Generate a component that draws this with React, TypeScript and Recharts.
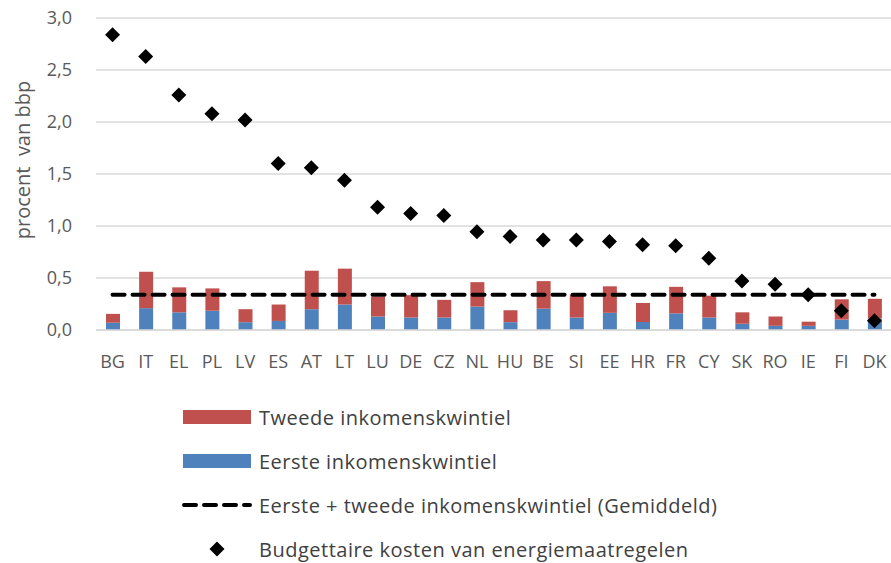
import { ComposedChart, Bar, Line, XAxis, YAxis, CartesianGrid } from 'recharts';

const countries = ['BG', 'IT', 'EL', 'PL', 'LV', 'ES', 'AT', 'LT', 'LU', 'DE', 'CZ', 'NL', 'HU', 'BE', 'SI', 'EE', 'HR', 'FR', 'CY', 'SK', 'RO', 'IE', 'FI', 'DK'];
// eerste inkomenskwintiel (onderste deel)
const eerste = [0.07, 0.21, 0.17, 0.185, 0.075, 0.087, 0.2, 0.245, 0.13, 0.12, 0.12, 0.225, 0.075, 0.205, 0.12, 0.165, 0.077, 0.16, 0.12, 0.06, 0.04, 0.04, 0.1, 0.11];
// tweede inkomenskwintiel (bovenste deel)
const tweede = [0.085, 0.35, 0.24, 0.215, 0.125, 0.158, 0.37, 0.345, 0.19, 0.215, 0.17, 0.235, 0.115, 0.265, 0.22, 0.255, 0.183, 0.255, 0.21, 0.11, 0.09, 0.04, 0.195, 0.19];
const gemiddeld = 0.34;
const kosten = [2.84, 2.63, 2.26, 2.08, 2.02, 1.6, 1.56, 1.44, 1.18, 1.12, 1.1, 0.945, 0.9, 0.865, 0.865, 0.85, 0.82, 0.81, 0.69, 0.47, 0.44, 0.34, 0.185, 0.09];
const yTicks = [0, 0.5, 1, 1.5, 2, 2.5, 3];

const data = countries.map((c, i) => ({
    land: c,
    eerste: eerste[i],
    tweede: tweede[i],
    gemiddeld,
    kosten: kosten[i],
}));

const FONT = '"Open Sans", sans-serif';
const BLUE = '#4f81bd';
const RED = '#c0504d';

const Diamond = (props: any) => {
    const { cx, cy } = props;
    if (cx == null || cy == null) return null;
    const r = 7.5;
    return <polygon points={`${cx},${cy - r} ${cx + r},${cy} ${cx},${cy + r} ${cx - r},${cy}`} fill="#000" />;
};

const YLabel = () => (
    <text
        x={22}
        y={160}
        transform="rotate(-90, 22, 160)"
        textAnchor="middle"
        dominantBaseline="central"
        fill="#595959"
        fontSize={20}
        fontFamily={FONT}
    >
        {'procent\u00a0 van bbp'}
    </text>
);

function ChartLegend() {
    const rows = [
        { y: 417, label: 'Tweede inkomenskwintiel', kind: 'red' },
        { y: 461, label: 'Eerste inkomenskwintiel', kind: 'blue' },
        { y: 505, label: 'Eerste + tweede inkomenskwintiel (Gemiddeld)', kind: 'dash' },
        { y: 549, label: 'Budgettaire kosten van energiemaatregelen', kind: 'diamond' },
    ];
    return (
        <svg width={891} height={563} style={{ position: 'absolute', left: 0, top: 0, pointerEvents: 'none' }}>
            {rows.map((r) => (
                <g key={r.label}>
                    {r.kind === 'red' && <rect x={183} y={r.y - 7} width={68} height={14} fill={RED} />}
                    {r.kind === 'blue' && <rect x={183} y={r.y - 7} width={68} height={14} fill={BLUE} />}
                    {r.kind === 'dash' && (
                        <line x1={184} x2={250} y1={r.y} y2={r.y} stroke="#000" strokeWidth={4} strokeDasharray="12 8" strokeLinecap="round" />
                    )}
                    {r.kind === 'diamond' && <Diamond cx={217} cy={r.y} />}
                    <text
                        x={259}
                        y={r.y}
                        dominantBaseline="central"
                        fill="#404040"
                        fontSize={20}
                        letterSpacing={0.5}
                        fontFamily={FONT}
                    >
                        {r.label}
                    </text>
                </g>
            ))}
        </svg>
    );
}

export default function App() {
    return (
        <div style={{ position: 'absolute', left: 0, top: 0, width: 891, height: 563, background: '#fff' }}>
            <ComposedChart
                width={891}
                height={563}
                data={data}
                margin={{ top: 18, right: 0, left: 0, bottom: 203 }}
                barSize={14}
            >
                <CartesianGrid vertical={false} stroke="#d9d9d9" strokeWidth={1.5} />
                <XAxis
                    dataKey="land"
                    interval={0}
                    tickLine={false}
                    axisLine={{ stroke: '#d9d9d9', strokeWidth: 1.5 }}
                    tickMargin={19}
                    height={30}
                    tick={{ fill: '#595959', fontSize: 18, fontFamily: FONT }}
                />
                <YAxis
                    width={96}
                    domain={[0, 3]}
                    ticks={yTicks}
                    interval={0}
                    tickLine={false}
                    axisLine={false}
                    tickMargin={18}
                    tickFormatter={(v: number) => v.toFixed(1).replace('.', ',')}
                    tick={{ fill: '#595959', fontSize: 18, fontFamily: FONT }}
                    label={<YLabel />}
                />
                <Bar dataKey="eerste" stackId="a" fill={BLUE} isAnimationActive={false} />
                <Bar dataKey="tweede" stackId="a" fill={RED} isAnimationActive={false} />
                <Line
                    dataKey="gemiddeld"
                    type="linear"
                    stroke="#000"
                    strokeWidth={4}
                    strokeDasharray="12 8"
                    strokeLinecap="round"
                    dot={false}
                    activeDot={false}
                    isAnimationActive={false}
                />
                <Line
                    dataKey="kosten"
                    stroke="none"
                    dot={<Diamond />}
                    activeDot={false}
                    isAnimationActive={false}
                />
            </ComposedChart>
            <ChartLegend />
        </div>
    );
}
